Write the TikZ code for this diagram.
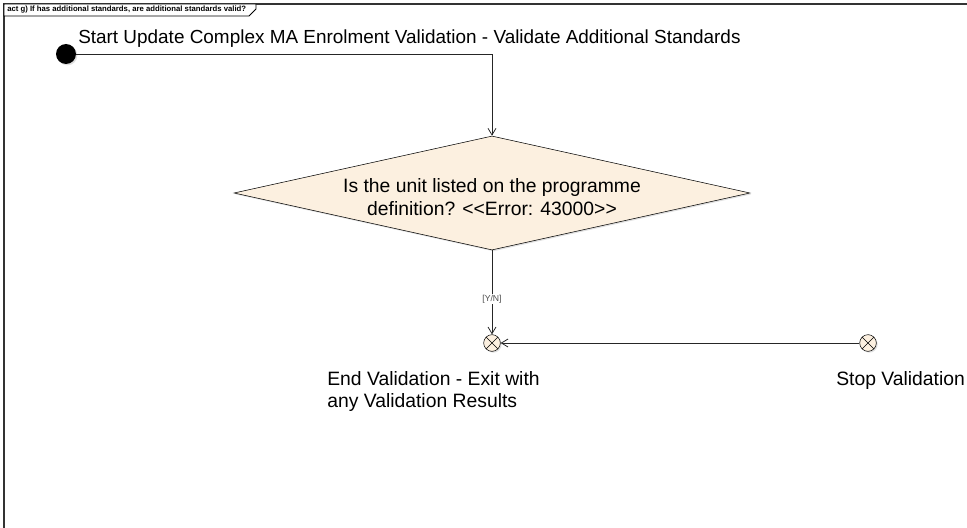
\documentclass[tikz,border=0pt]{standalone}
\usepackage{fontspec}
\setmainfont{Liberation Sans}
\usetikzlibrary{shapes.geometric,arrows.meta,shadows}
\definecolor{actfill}{RGB}{252,240,224}

\begin{document}
\begin{tikzpicture}[x=0.75pt, y=-0.75pt, >={Straight Barb[length=5pt,width=6pt]},
  every node/.style={font=\fontsize{14.5}{16.5}\selectfont},
  flow/.style={->, draw=black!85, line width=0.6pt},
  shade/.style={drop shadow={shadow xshift=1pt, shadow yshift=-1pt, fill=black!25}},
  endnode/.style={circle, draw, fill=actfill, shade, minimum size=12.5pt, inner sep=0pt,
    path picture={\draw (path picture bounding box.south west) -- (path picture bounding box.north east)
      (path picture bounding box.north west) -- (path picture bounding box.south east);}}]
  \useasboundingbox (0,0) rectangle (967,528);

  % frame with its tab
  \draw[line width=1pt, black!80] (4,528) -- (4,4) -- (967,4);
  \draw[fill=white, line width=0.6pt] (4,4) -- (256,4) -- (256,9) -- (249,16) -- (4,16) -- cycle;
  \node[anchor=west, inner sep=0pt, font=\fontsize{5.8}{6}\bfseries\selectfont] (frametitle) at (7,10)
    {act g) If has additional standards, are additional standards valid?};

  \node[circle, fill=black, shade, minimum size=15pt, inner sep=0pt] (start) at (66,54) {};
  \node[anchor=base west, inner sep=0pt, font=\fontsize{14.2}{16}\selectfont] (starttext) at (78,44)
    {Start Update Complex MA Enrolment Validation - Validate Additional Standards};

  \node[diamond, draw, fill=actfill, shade, aspect=4.5, minimum width=387pt, minimum height=85.5pt,
    inner sep=0pt] (valid) at (492,193) {};
  \node[align=center, inner sep=0pt, font=\fontsize{14.5}{17.3}\selectfont] (validtext) at (492,197.5)
    {Is the unit listed on the programme\\definition? <{}<Error: 43000>{}>};

  \node[endnode] (end) at (492,343) {};
  \node[endnode] (stop) at (868,343) {};
  \node[anchor=base west, inner sep=0pt, align=left] (endtext) at (327,407)
    {End Validation - Exit with\\any Validation Results};
  \node[anchor=base west, inner sep=0pt] (stoptext) at (836,385) {Stop Validation};

  \draw[flow] (start.east) -| (valid.north);
  \draw[flow] (valid.south) -- node[pos=0.58, fill=white, inner sep=1pt, text=black!70,
    font=\fontsize{6.5}{7}\selectfont] (yn) {[Y/N]} (end);
  \draw[flow] (stop) -- (end);
\end{tikzpicture}
\end{document}
